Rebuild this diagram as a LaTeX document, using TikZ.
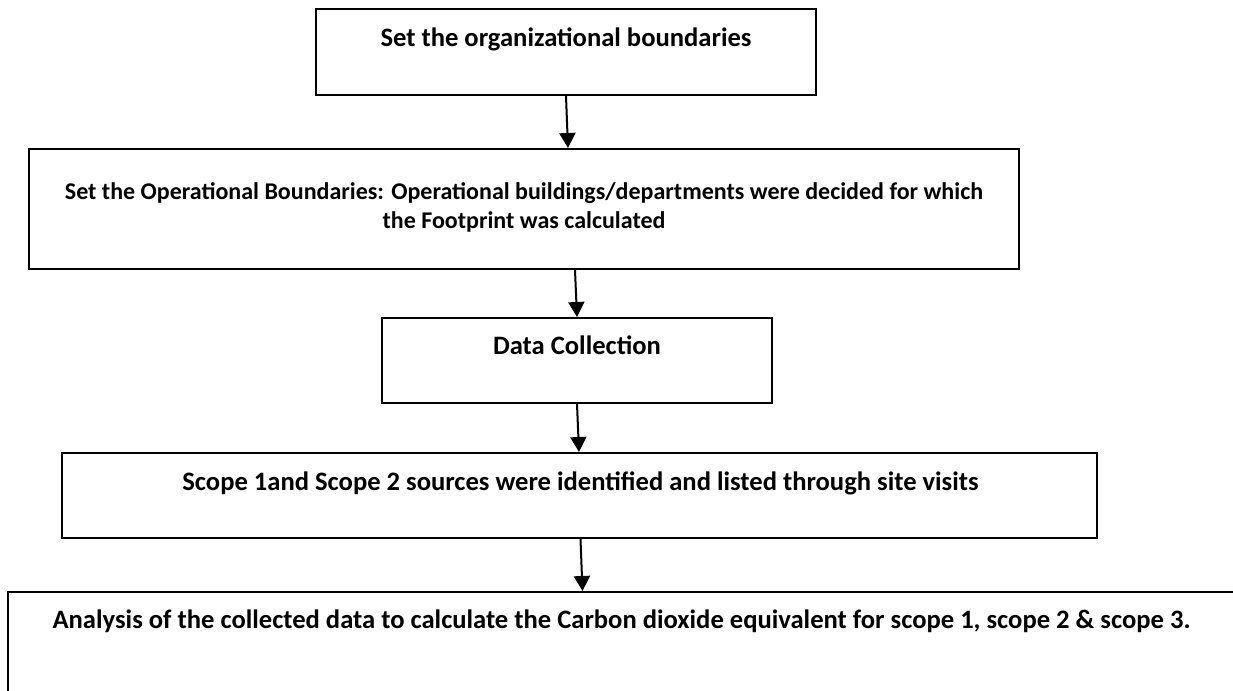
\documentclass[tikz,border=0pt]{standalone}
\usepackage{fontspec}
\setmainfont{Carlito}
\usetikzlibrary{arrows.meta}

\tikzset{
    box/.style={draw=black, line width=1pt, rectangle, inner sep=0pt},
    steptext/.style={font=\bfseries\fontsize{13.3}{16}\selectfont, align=center, inner sep=0pt, anchor=base},
    flow/.style={line width=1pt, -{Triangle[length=7.5pt,width=8pt]}}
}

\begin{document}
\begin{tikzpicture}[x=0.5pt, y=-0.5pt]
    % page frame (1233 x 691 px)
    \useasboundingbox[fill=white] (0,0) rectangle (1233,691);
    \clip (0,0) rectangle (1233,691);

    % the boxes
    \node[box, minimum width=250pt, minimum height=43pt] (org) at (566,52) {};
    \node[box, minimum width=495pt, minimum height=60pt] (ops) at (524,209) {};
    \node[box, minimum width=195pt, minimum height=42.5pt] (data) at (577,360.5) {};
    \node[box, minimum width=517.5pt, minimum height=42.5pt] (scope) at (579.5,495.5) {};
    \node[box, minimum width=626pt, minimum height=90pt] (calc) at (634,682) {};

    % the texts, near the top of each box
    \node[steptext] (orgtext) at (566,46) {Set the organizational boundaries};
    \node[steptext, anchor=center, font=\bfseries\fontsize{12}{14.5}\selectfont] (opstext) at (524,207) {Set the Operational Boundaries: Operational buildings/departments were decided for which\\the Footprint was calculated};
    \node[steptext] (datatext) at (577,354) {Data Collection};
    \node[steptext] (scopetext) at (580.5,490) {Scope 1and Scope 2 sources were identified and listed through site visits};
    \node[steptext] (calctext) at (621.5,628) {Analysis of the collected data to calculate the Carbon dioxide equivalent for scope 1, scope 2 \& scope 3.};

    % draw the arrows
    \draw[flow] (org.south) -- ([xshift=1pt]org.south |- ops.north);
    \draw[flow] ([xshift=-1pt]ops.south -| data.north) -- (data.north);
    \draw[flow] (data.south) -- ([xshift=1pt]data.south |- scope.north);
    \draw[flow] ([xshift=0.5pt]scope.south) -- ([xshift=1.5pt]scope.south |- calc.north);

\end{tikzpicture}
\end{document}
